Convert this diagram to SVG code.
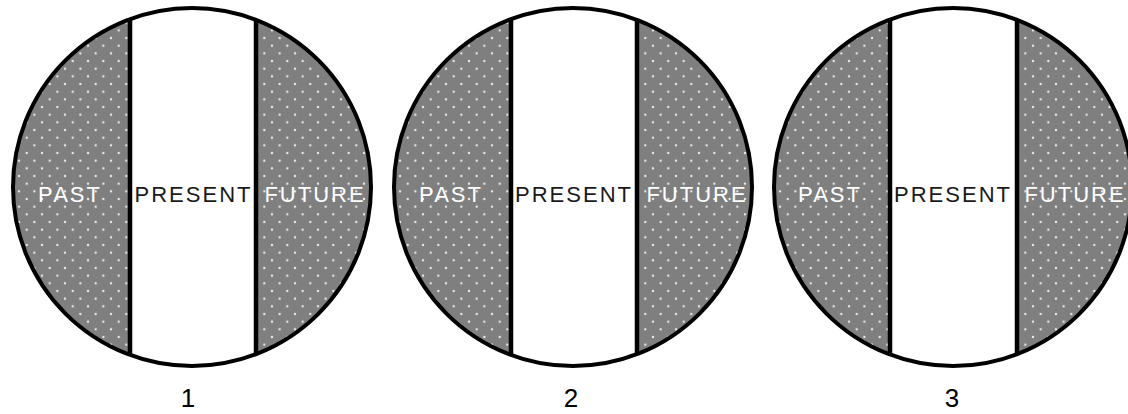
<svg xmlns="http://www.w3.org/2000/svg" width="1128" height="414" viewBox="0 0 1128 414">
<style>
.bg{fill:#7f7f7f}
.dots{fill:url(#dots)}
.mid{fill:#fff}
.div{stroke:#000;stroke-width:4.5}
.ring{fill:none;stroke:#000;stroke-width:4}
.lbl{font-family:"Liberation Sans",Arial,sans-serif;font-size:22px;letter-spacing:2px;text-anchor:middle}
.w{fill:#fff}
.k{fill:#1a1a1a}
.num{font-family:"Liberation Sans",Arial,sans-serif;font-size:26px;text-anchor:middle;fill:#000}
</style>
<defs>
<pattern id="dots" patternUnits="userSpaceOnUse" x="14.83" y="8.16" width="15.33" height="15.33">
<circle cx="3.83" cy="3.83" r="1.2" fill="#e8e8e8"/>
<circle cx="11.5" cy="11.5" r="1.2" fill="#e8e8e8"/>
</pattern>
<clipPath id="cp"><circle cx="0" cy="0" r="179"/></clipPath>
</defs>
<g id="circle-1" transform="translate(192,187)">
<g clip-path="url(#cp)">
<rect class="bg" x="-180" y="-180" width="360" height="360"/>
<rect class="dots" x="-180" y="-180" width="360" height="360"/>
<rect class="mid" x="-62" y="-180" width="126" height="360"/>
<line class="div" x1="-62" y1="-180" x2="-62" y2="180"/>
<line class="div" x1="64" y1="-180" x2="64" y2="180"/>
</g>
<circle class="ring" r="179"/>
<text class="lbl w" x="-122" y="14.7">PAST</text>
<text class="lbl k" x="1.5" y="14.7">PRESENT</text>
<text class="lbl w" x="123" y="14.7">FUTURE</text>
<text class="num" x="-4" y="220">1</text>
</g>
<g id="circle-2" transform="translate(573,187)">
<g clip-path="url(#cp)">
<rect class="bg" x="-180" y="-180" width="360" height="360"/>
<rect class="dots" x="-180" y="-180" width="360" height="360"/>
<rect class="mid" x="-62" y="-180" width="126" height="360"/>
<line class="div" x1="-62" y1="-180" x2="-62" y2="180"/>
<line class="div" x1="64" y1="-180" x2="64" y2="180"/>
</g>
<circle class="ring" r="179"/>
<text class="lbl w" x="-122" y="14.7">PAST</text>
<text class="lbl k" x="1" y="14.7">PRESENT</text>
<text class="lbl w" x="124" y="14.7">FUTURE</text>
<text class="num" x="-2" y="220">2</text>
</g>
<g id="circle-3" transform="translate(953,187)">
<g clip-path="url(#cp)">
<rect class="bg" x="-180" y="-180" width="360" height="360"/>
<rect class="dots" x="-180" y="-180" width="360" height="360"/>
<rect class="mid" x="-63" y="-180" width="127" height="360"/>
<line class="div" x1="-63" y1="-180" x2="-63" y2="180"/>
<line class="div" x1="64" y1="-180" x2="64" y2="180"/>
</g>
<circle class="ring" r="179"/>
<text class="lbl w" x="-123" y="14.7">PAST</text>
<text class="lbl k" x="0" y="14.7">PRESENT</text>
<text class="lbl w" x="122" y="14.7">FUTURE</text>
<text class="num" x="-1" y="220">3</text>
</g>
<g id="connectors"/>
</svg>
